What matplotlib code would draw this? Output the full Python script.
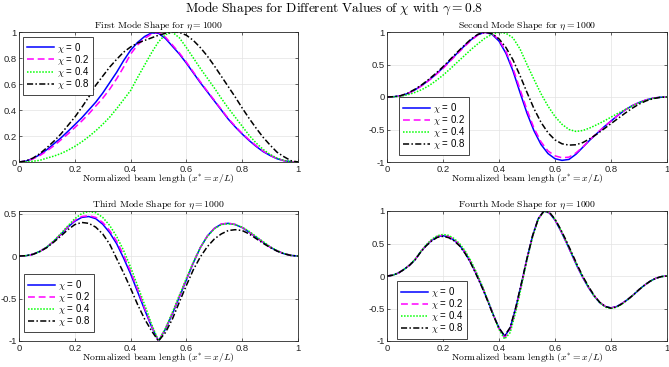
import matplotlib

matplotlib.use("Agg")
import matplotlib.pyplot as plt
import numpy as np

# sample positions (normalized beam length)
x_a = np.linspace(0, 1, 41)   # panels 1-3, step 0.025
x_b = np.linspace(0, 1, 51)   # panel 4, step 0.02

chi_labels = ["0", "0.2", "0.4", "0.8"]

# --- first mode ---
m1_chi0 = [0, 0.007, 0.027, 0.057, 0.095, 0.14, 0.185, 0.235, 0.287, 0.34, 0.40, 0.46, 0.53,
           0.61, 0.69, 0.78, 0.86, 0.92, 0.965, 0.993, 0.99, 0.95, 0.89, 0.83, 0.76, 0.685,
           0.61, 0.54, 0.47, 0.40, 0.33, 0.27, 0.215, 0.165, 0.12, 0.08, 0.05, 0.025, 0.01,
           0.002, 0]
m1_chi02 = [0, 0.006, 0.024, 0.05, 0.085, 0.125, 0.17, 0.215, 0.265, 0.315, 0.37, 0.43, 0.49,
            0.56, 0.64, 0.73, 0.83, 0.9, 0.95, 0.985, 0.998, 0.96, 0.9, 0.838, 0.768, 0.692,
            0.617, 0.545, 0.475, 0.405, 0.335, 0.275, 0.22, 0.17, 0.125, 0.085, 0.052, 0.027,
            0.01, 0.002, 0]
m1_chi04 = [0, 0.002, 0.006, 0.013, 0.03, 0.045, 0.065, 0.09, 0.12, 0.155, 0.195, 0.24, 0.29,
            0.345, 0.41, 0.48, 0.55, 0.65, 0.745, 0.84, 0.925, 0.98, 0.998, 0.955, 0.88, 0.80,
            0.72, 0.645, 0.57, 0.49, 0.415, 0.345, 0.275, 0.205, 0.146, 0.097, 0.058, 0.03,
            0.012, 0.003, 0]
m1_chi08 = [0, 0.008, 0.03, 0.065, 0.11, 0.16, 0.215, 0.28, 0.345, 0.42, 0.50, 0.59, 0.66,
            0.73, 0.79, 0.845, 0.885, 0.915, 0.935, 0.955, 0.975, 0.99, 1.0, 0.997, 0.975,
            0.935, 0.88, 0.815, 0.74, 0.66, 0.58, 0.50, 0.415, 0.335, 0.26, 0.19, 0.13, 0.075,
            0.04, 0.01, 0]

# --- second mode ---
m2_chi0 = [0, 0.005, 0.02, 0.055, 0.11, 0.18, 0.26, 0.35, 0.45, 0.56, 0.67, 0.78, 0.88, 0.96,
           0.995, 0.965, 0.86, 0.67, 0.40, 0.07, -0.25, -0.52, -0.73, -0.87, -0.95, -0.975,
           -0.96, -0.88, -0.77, -0.66, -0.56, -0.46, -0.37, -0.28, -0.20, -0.135, -0.085,
           -0.045, -0.018, -0.004, 0]
m2_chi02 = [0, 0.005, 0.019, 0.053, 0.105, 0.175, 0.255, 0.345, 0.44, 0.55, 0.66, 0.77, 0.87,
            0.955, 0.995, 0.975, 0.88, 0.70, 0.44, 0.12, -0.2, -0.48, -0.69, -0.83, -0.905,
            -0.935, -0.925, -0.86, -0.765, -0.655, -0.555, -0.46, -0.37, -0.28, -0.20, -0.135,
            -0.085, -0.045, -0.018, -0.004, 0]
m2_chi04 = [0, 0.003, 0.012, 0.035, 0.07, 0.115, 0.175, 0.25, 0.335, 0.43, 0.53, 0.63, 0.73,
            0.82, 0.905, 0.965, 0.995, 0.98, 0.91, 0.74, 0.50, 0.27, 0.05, -0.14, -0.30, -0.42,
            -0.50, -0.53, -0.515, -0.475, -0.425, -0.37, -0.31, -0.25, -0.195, -0.14, -0.09,
            -0.05, -0.022, -0.005, 0]
m2_chi08 = [0, 0.005, 0.022, 0.06, 0.12, 0.19, 0.275, 0.365, 0.465, 0.575, 0.685, 0.79, 0.89,
            0.965, 0.998, 0.975, 0.895, 0.76, 0.57, 0.33, 0.07, -0.18, -0.39, -0.55, -0.66,
            -0.72, -0.74, -0.735, -0.70, -0.64, -0.57, -0.49, -0.41, -0.33, -0.25, -0.175,
            -0.11, -0.06, -0.025, -0.006, 0]

# --- third mode ---
m3_chi0 = [0, 0.004, 0.02, 0.055, 0.105, 0.175, 0.255, 0.34, 0.41, 0.455, 0.465, 0.44, 0.375,
           0.275, 0.145, -0.025, -0.21, -0.42, -0.63, -0.83, -1.0, -0.86, -0.68, -0.48, -0.28,
           -0.08, 0.10, 0.235, 0.325, 0.375, 0.385, 0.37, 0.335, 0.28, 0.22, 0.16, 0.105,
           0.06, 0.027, 0.007, 0]
m3_chi02 = [0, 0.004, 0.02, 0.055, 0.106, 0.177, 0.258, 0.345, 0.42, 0.465, 0.475, 0.455,
            0.395, 0.30, 0.175, 0.01, -0.18, -0.39, -0.61, -0.82, -1.0, -0.855, -0.67, -0.47,
            -0.27, -0.075, 0.10, 0.235, 0.325, 0.377, 0.387, 0.372, 0.337, 0.282, 0.222, 0.162,
            0.106, 0.061, 0.028, 0.007, 0]
m3_chi04 = [0, 0.004, 0.02, 0.055, 0.107, 0.18, 0.265, 0.355, 0.44, 0.50, 0.525, 0.51, 0.455,
            0.36, 0.23, 0.065, -0.13, -0.35, -0.57, -0.80, -1.0, -0.85, -0.66, -0.46, -0.26,
            -0.07, 0.10, 0.23, 0.32, 0.37, 0.38, 0.37, 0.34, 0.29, 0.23, 0.17, 0.11, 0.064,
            0.03, 0.008, 0]
m3_chi08 = [0, 0.004, 0.02, 0.053, 0.10, 0.165, 0.235, 0.31, 0.37, 0.395, 0.385, 0.34, 0.26,
            0.14, -0.03, -0.2, -0.38, -0.57, -0.74, -0.88, -1.0, -0.9, -0.74, -0.54, -0.345,
            -0.16, -0.01, 0.11, 0.20, 0.26, 0.30, 0.31, 0.30, 0.26, 0.205, 0.15, 0.10, 0.058,
            0.026, 0.007, 0]

# --- fourth mode ---
m4_chi0 = [0, 0.012, 0.045, 0.10, 0.165, 0.25, 0.37, 0.47, 0.55, 0.605, 0.62, 0.60, 0.55, 0.47,
           0.35, 0.20, 0.02, -0.17, -0.38, -0.60, -0.80, -0.93, -0.80, -0.49, -0.12, 0.27,
           0.62, 0.88, 1.0, 0.97, 0.86, 0.70, 0.52, 0.33, 0.14, -0.03, -0.18, -0.31, -0.41,
           -0.47, -0.49, -0.47, -0.42, -0.36, -0.29, -0.21, -0.14, -0.08, -0.035, -0.009, 0]
m4_chi02 = [0, 0.012, 0.045, 0.10, 0.166, 0.252, 0.372, 0.475, 0.557, 0.612, 0.63, 0.61, 0.56,
            0.48, 0.362, 0.212, 0.033, -0.16, -0.375, -0.60, -0.81, -0.95, -0.83, -0.52, -0.14,
            0.26, 0.61, 0.875, 0.998, 0.972, 0.865, 0.705, 0.525, 0.335, 0.145, -0.025, -0.175,
            -0.305, -0.405, -0.468, -0.492, -0.472, -0.422, -0.36, -0.29, -0.21, -0.14, -0.08,
            -0.035, -0.009, 0]
m4_chi04 = [0, 0.012, 0.045, 0.10, 0.167, 0.255, 0.375, 0.48, 0.565, 0.62, 0.64, 0.625, 0.575,
            0.495, 0.38, 0.23, 0.05, -0.15, -0.37, -0.60, -0.82, -0.97, -0.87, -0.55, -0.16,
            0.25, 0.60, 0.87, 0.995, 0.975, 0.87, 0.71, 0.53, 0.34, 0.15, -0.02, -0.17, -0.31,
            -0.41, -0.48, -0.50, -0.48, -0.43, -0.365, -0.29, -0.21, -0.14, -0.08, -0.035,
            -0.009, 0]
m4_chi08 = [0, 0.012, 0.044, 0.098, 0.163, 0.247, 0.365, 0.465, 0.54, 0.595, 0.61, 0.59, 0.54,
            0.46, 0.34, 0.19, 0.01, -0.18, -0.39, -0.61, -0.80, -0.92, -0.79, -0.48, -0.11,
            0.27, 0.62, 0.88, 0.998, 0.98, 0.875, 0.72, 0.545, 0.355, 0.165, -0.01, -0.165,
            -0.30, -0.405, -0.47, -0.495, -0.475, -0.425, -0.36, -0.29, -0.21, -0.14, -0.08,
            -0.035, -0.009, 0]

# name, x, curves, y-limits, y-ticks, legend anchor (loc, axes coords)
panels = [
    ("First", x_a, [m1_chi0, m1_chi02, m1_chi04, m1_chi08], (0, 1),
     [0, 0.2, 0.4, 0.6, 0.8, 1], ("upper left", (0.014, 0.962))),
    ("Second", x_a, [m2_chi0, m2_chi02, m2_chi04, m2_chi08], (-1, 1),
     [-1, -0.5, 0, 0.5, 1], ("lower left", (0.043, 0.054))),
    ("Third", x_a, [m3_chi0, m3_chi02, m3_chi04, m3_chi08], (-1, 0.53),
     [-1, -0.5, 0, 0.5], ("lower left", (0.018, 0.069))),
    ("Fourth", x_b, [m4_chi0, m4_chi02, m4_chi04, m4_chi08], (-1, 1),
     [-1, -0.5, 0, 0.5, 1], ("lower left", (0.036, 0.015))),
]

styles = [
    dict(color="#0000ff", ls="-", lw=1.1),
    dict(color="#ff00ff", ls=(0, (4.5, 2.5)), lw=1.1),
    dict(color="#00ff00", ls=(0, (1, 1)), lw=1.1),
    dict(color="#000000", ls=(0, (4, 1.5, 1, 1.5)), lw=1.1),
]

plt.rcParams["font.family"] = ["Liberation Sans", "DejaVu Sans"]
plt.rcParams["mathtext.fontset"] = "cm"
plt.rcParams["axes.unicode_minus"] = False

fig = plt.figure(figsize=(6.69, 3.67), dpi=100)
rects = [
    [19 / 669, 1 - 162 / 367, 279 / 669, 130 / 367],
    [387 / 669, 1 - 162 / 367, 280 / 669, 130 / 367],
    [19 / 669, 1 - 341 / 367, 279 / 669, 130 / 367],
    [387 / 669, 1 - 341 / 367, 280 / 669, 130 / 367],
]

for rect, (name, xs, curves, ylim, yticks, (loc, anchor)) in zip(rects, panels):
    ax = fig.add_axes(rect)
    for ys, lab, st in zip(curves, chi_labels, styles):
        ax.plot(xs, ys, label=r"$\chi$ = " + lab, **st)
    ax.set_xlim(0, 1)
    ax.set_ylim(*ylim)
    ax.set_xticks([0, 0.2, 0.4, 0.6, 0.8, 1])
    ax.set_xticklabels(["0", "0.2", "0.4", "0.6", "0.8", "1"])
    ax.set_yticks(yticks)
    ax.set_yticklabels(["%g" % t for t in yticks])
    ax.tick_params(direction="in", length=2.5, width=0.5, labelsize=6.8, pad=1.5,
                   colors="#262626", top=True, right=True)
    ax.tick_params(axis="x", pad=2.5)
    ax.grid(True, color="#e3e3e3", lw=0.5)
    ax.set_axisbelow(True)
    for sp in ax.spines.values():
        sp.set_color("#262626")
        sp.set_linewidth(0.6)
    ax.set_title(r"$\mathrm{" + name + r"\ Mode\ Shape\ for\ }\eta = 1000$",
                 fontsize=7.0, pad=3)
    ax.set_xlabel(r"$\mathrm{Normalized\ beam\ length\ (}x^{*} = x/L\mathrm{)}$",
                  fontsize=7.0)
    ax.xaxis.set_label_coords(0.5, -11 / 130)
    leg = ax.legend(loc=loc, bbox_to_anchor=anchor, fontsize=7, handlelength=2.8,
                    handletextpad=0.3, labelspacing=-0.2, borderpad=0.4,
                    borderaxespad=0, fancybox=False, framealpha=1)
    leg.get_frame().set_edgecolor("#262626")
    leg.get_frame().set_linewidth(0.6)

fig.text(0.5, 1 - 8.5 / 367,
         r"$\mathrm{Mode\ Shapes\ for\ Different\ Values\ of\ }\chi\mathrm{\ with\ }\gamma = 0.8$",
         ha="center", va="center", fontsize=9.7)

fig.savefig("out.png", dpi=100)
